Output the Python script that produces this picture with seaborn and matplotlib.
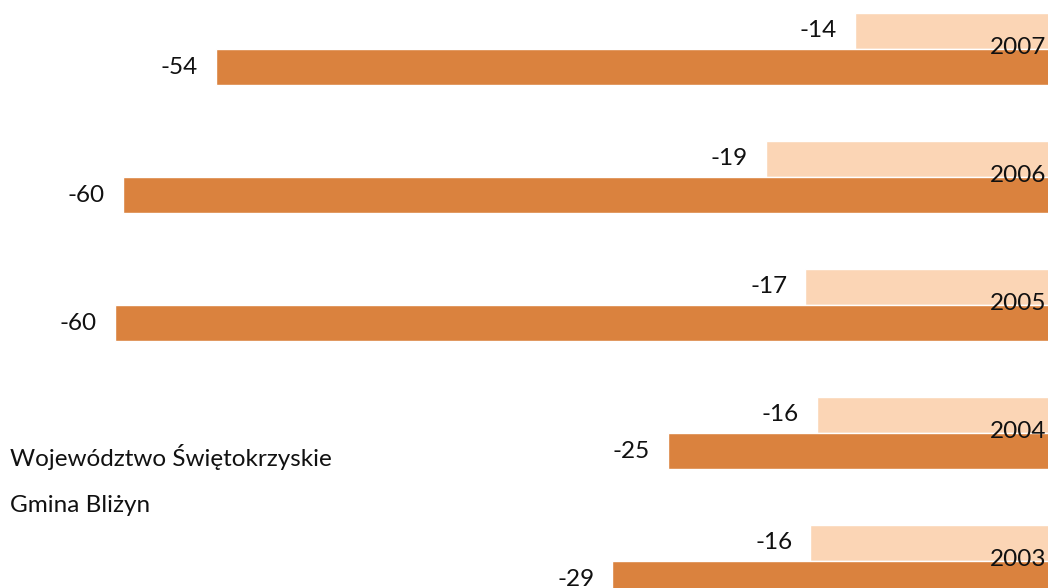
import matplotlib
matplotlib.use("Agg")
import matplotlib.pyplot as plt
import seaborn as sns
import pandas as pd
import numpy as np

years = ["2007", "2006", "2005", "2004", "2003"]
wojewodztwo = [-13.6, -19.2, -16.7, -16.0, -16.4]
gmina = [-53.9, -59.8, -60.3, -25.4, -28.9]
series_names = ["Województwo Świętokrzyskie", "Gmina Bliżyn"]
colors = ["#FBD5B5", "#DA823E"]

df = pd.DataFrame({
    "year": years * 2,
    "value": wojewodztwo + gmina,
    "series": [series_names[0]] * len(years) + [series_names[1]] * len(years),
})

sns.set_theme(style="white")
plt.rcParams["font.family"] = ["Lato", "DejaVu Sans"]

fig = plt.figure(figsize=(10.48, 5.88), dpi=100)
ax = fig.add_axes([0, 0, 1, 1])

sns.barplot(data=df, y="year", x="value", hue="series", order=years,
            hue_order=series_names, palette=colors, orient="h",
            width=0.57, saturation=1, ax=ax, legend=False, errorbar=None)

FS = 17.5
for cont in ax.containers:
    labs = [f"{int(round(b.get_width()))}" for b in cont]
    ax.bar_label(cont, labels=labs, padding=13, fontsize=FS, color="#111111")

# x: zero at pixel 1070, 15.84 px per unit
ax.set_xlim(-1070 / 15.84, (1048 - 1070) / 15.84)
ax.set_ylim((588 - 49) / 128, -49 / 128)

trans = matplotlib.transforms.blended_transform_factory(ax.transAxes, ax.transData)
for i, y in enumerate(years):
    ax.text(0.998, i - 0.01, y, transform=trans, ha="right", va="center",
            fontsize=FS, color="#111111")

for s in ax.spines.values():
    s.set_visible(False)
ax.set_xticks([])
ax.set_yticks([])
ax.set_xlabel("")
ax.set_ylabel("")

fig.text(10 / 1048, 1 - 457 / 588, series_names[0], ha="left", va="center",
         fontsize=FS, color="#111111")
fig.text(10 / 1048, 1 - 505 / 588, series_names[1], ha="left", va="center",
         fontsize=FS, color="#111111")

fig.savefig("out.png", dpi=100)
